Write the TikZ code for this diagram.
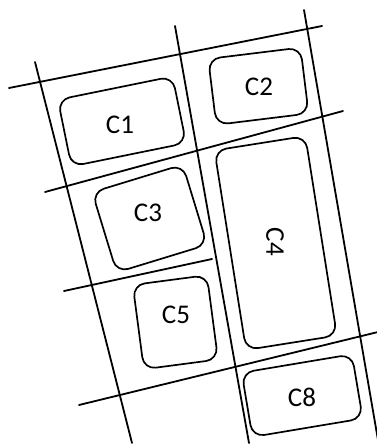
\documentclass[tikz,border=0pt]{standalone}
\usepackage{fontspec}
\setmainfont{Carlito}
\usetikzlibrary{positioning}
\tikzset{
  cut/.style={line width=1.8pt,line cap=round},
  cell/.style={draw,line width=1.7pt,rounded corners=12pt,inner sep=0pt},
  tag/.style={font=\fontsize{27}{31}\selectfont,inner sep=0pt},
}

\begin{document}
\begin{tikzpicture}[x=1pt,y=-1pt]
  \useasboundingbox (0,0) rectangle (377,445);
  % ---- grid lines ----
  \draw[cut] (35,62) -- (132,443);
  \draw[cut] (175,26) -- (249,443);
  \draw[cut] (304,10) -- (378,440);
  \draw[cut] (9,88) -- (322,26);
  \draw[cut] (45,192) -- (343,111);
  \draw[cut] (64,291) -- (212,259);
  \draw[cut] (79,405) -- (378,332);

  % ---- cells ----
  \foreach \n/\cx/\cy/\w/\h/\a/\tx/\ty/\r in {
      1/122/121.4/117/68/11.5/120/125/0,
      2/258.4/86.2/93/66.4/7/259/87/0,
      3/149.7/218.5/94.6/83.8/17/148/213/0,
      4/275.7/243/92/202/9/275/242/-90,
      5/175.4/322.2/74.8/85/7.5/176/315/0,
      8/302.2/395.6/111.8/65.1/9.5/302/397/0} {
    \node[cell,minimum width=\w pt,minimum height=\h pt,rotate=\a] (c\n) at (\cx,\cy) {};
    \node[tag,rotate=\r] (t\n) at (\tx,\ty) {C\n};
  }
\end{tikzpicture}
\end{document}
